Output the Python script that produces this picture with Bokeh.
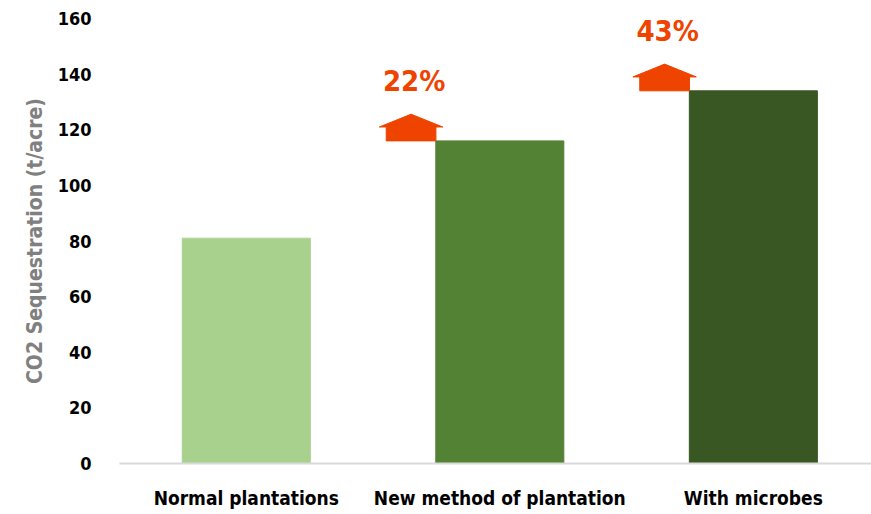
from bokeh.plotting import figure
from bokeh.models import Range1d, FixedTicker, ColumnDataSource
from bokeh.embed import file_html
from bokeh.resources import INLINE
from bokeh.core.properties import value

categories = ["Normal plantations", "New method of plantation", "With microbes"]
values = [81, 116, 134]
bar_colors = ["#a9d18e", "#548235", "#385723"]
increase_labels = ["22%", "43%"]
y_ticks = [0, 20, 40, 60, 80, 100, 120, 140, 160]

FONT = "DejaVu Sans Condensed"
ORANGE = "#ef4300"

xs = list(range(len(categories)))

p = figure(width=871, height=514, output_backend="svg", toolbar_location=None,
           x_range=Range1d(-0.5, 2.466), y_range=Range1d(0, 160),
           min_border_left=119, min_border_right=0, min_border_top=18, min_border_bottom=51)
p.outline_line_color = None
p.xgrid.grid_line_color = None
p.ygrid.grid_line_color = None

src = ColumnDataSource(dict(x=xs, top=values, color=bar_colors))
p.vbar(x="x", top="top", width=0.505, color="color", source=src)

# arrows + labels for the increases
ax, ay, lx, ly = [], [], [], []
for i in range(1, len(values)):
    c = i - 0.35
    b = values[i]
    sw, hw, sh, hh = 0.098, 0.125, 5.0, 4.6
    ax.append([c - sw, c - sw, c - hw, c, c + hw, c + sw, c + sw])
    ay.append([b, b + sh, b + sh, b + sh + hh, b + sh, b + sh, b])
    lx.append(c + 0.012)
    ly.append(b + 21.5)
p.patches(ax, ay, color=ORANGE, line_color=ORANGE)
p.text(x=lx, y=ly, text=increase_labels, text_align="center", text_baseline="middle",
       text_color=ORANGE, text_font=value(FONT), text_font_style="bold", text_font_size="29px")

xa = p.xaxis[0]
xa.ticker = FixedTicker(ticks=xs)
xa.major_label_overrides = {i: c for i, c in enumerate(categories)}
xa.major_tick_line_color = None
xa.minor_tick_line_color = None
xa.axis_line_color = "#d9d9d9"
xa.axis_line_width = 2
xa.major_label_text_font = FONT
xa.major_label_text_font_style = "bold"
xa.major_label_text_font_size = "19px"
xa.major_label_text_color = "#000000"
xa.major_label_standoff = 17

ya = p.yaxis[0]
ya.ticker = FixedTicker(ticks=y_ticks)
ya.axis_line_color = None
ya.major_tick_line_color = None
ya.minor_tick_line_color = None
ya.major_label_text_font = FONT
ya.major_label_text_font_style = "bold"
ya.major_label_text_font_size = "18px"
ya.major_label_text_color = "#000000"
ya.major_label_standoff = 22
ya.axis_label = "CO2 Sequestration (t/acre)"
ya.axis_label_text_font = FONT
ya.axis_label_text_font_style = "bold"
ya.axis_label_text_font_size = "21px"
ya.axis_label_text_color = "#808080"
ya.axis_label_standoff = 8

open("out.html", "w").write(file_html(p, INLINE))
